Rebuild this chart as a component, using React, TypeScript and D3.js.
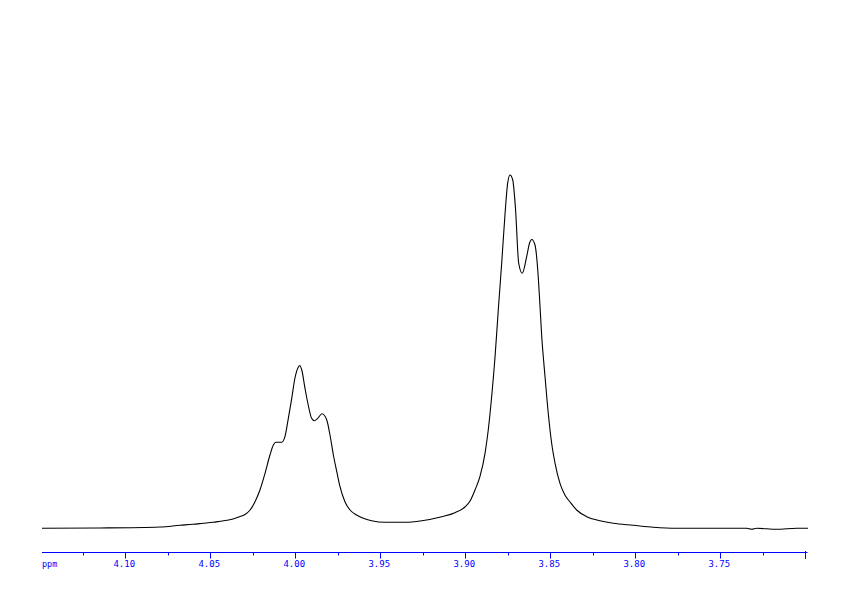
import React from "react";
import * as d3 from "d3";

const ppm: number[] = [
  4.149, 4.1149, 4.0796, 4.0678, 4.0602, 4.0543, 4.0484, 4.0443, 4.0402, 4.0366,
  4.0337, 4.0325, 4.0296, 4.0266, 4.0237, 4.0208, 4.0178, 4.0149, 4.0129, 4.0114,
  4.008, 4.0061, 4.0041, 4.0021, 4.0002, 3.9982, 3.9975, 3.9962, 3.9943, 3.9924,
  3.9904, 3.9888, 3.9868, 3.9843, 3.9815, 3.9796, 3.9776, 3.9756, 3.9737, 3.9708,
  3.9678, 3.9639, 3.96, 3.9551, 3.9472, 3.9355, 3.9256, 3.9139, 3.9061, 3.9002,
  3.8972, 3.8943, 3.8914, 3.8884, 3.8865, 3.8845, 3.8825, 3.8806, 3.8786, 3.8766,
  3.8751, 3.8737, 3.8721, 3.8705, 3.8686, 3.8665, 3.8639, 3.8622, 3.8609, 3.859,
  3.8571, 3.8561, 3.8551, 3.8531, 3.8512, 3.8492, 3.8472, 3.8443, 3.8414, 3.8384,
  3.8345, 3.8286, 3.8208, 3.8129, 3.8012, 3.7894, 3.7756, 3.7345, 3.7315, 3.7286,
  3.7168, 3.7051, 3.6984,
];

const intensity: number[] = [
  0, 0.3, 1.3, 3.0, 4.0, 5.0, 6.0, 7.0, 8.0, 9.3,
  11.0, 11.8, 13.8, 18.3, 26.6, 38.3, 55.0, 73.3, 83.3, 86.0,
  86.0, 91.6, 110.0, 130.0, 150.3, 161.3, 162.8, 158.3, 140.0, 123.3,
  110.0, 107.6, 110.0, 114.5, 108.3, 93.3, 73.3, 56.6, 41.6, 26.6,
  18.3, 13.3, 10.0, 7.6, 6.0, 6.0, 7.6, 11.6, 15.6, 21.3,
  27.3, 38.3, 51.6, 75.0, 98.3, 131.6, 171.6, 218.3, 265.0, 315.0,
  345.0, 353.3, 348.3, 320.3, 265.3, 255.0, 271.6, 285.3, 288.8, 283.3,
  251.6, 223.3, 193.6, 151.6, 115.0, 85.0, 65.0, 45.0, 33.3, 26.3,
  18.3, 11.6, 7.6, 5.0, 3.0, 1.0, 0, 0, -1.0, 0,
  -1.0, 0, 0,
];

const majorTicks: number[] = [4.1, 4.05, 4.0, 3.95, 3.9, 3.85, 3.8, 3.75];
const majorLabels: string[] = ["4.10", "4.05", "4.00", "3.95", "3.90", "3.85", "3.80", "3.75"];
const minorTicks: number[] = [4.125, 4.075, 4.025, 3.975, 3.925, 3.875, 3.825, 3.775, 3.725];
const endTick: number[] = [3.7];
const axisUnit = "ppm";

const W = 842;
const H = 595;
const AXIS_Y = 552.5;
const BLUE = "#0000ff";

export default function App() {
  const x = d3.scaleLinear().domain([4.15, 3.7]).range([40.3, 805.3]);
  const y = d3.scaleLinear().domain([0, 360]).range([528.3, 168.3]);

  const pts: [number, number][] = ppm.map((p, i) => [p, intensity[i]]);
  const line = d3
    .line<[number, number]>()
    .x((d) => x(d[0]))
    .y((d) => y(d[1]))
    .curve(d3.curveMonotoneX);

  const fontFamily = "'DejaVu Sans Mono', monospace";

  return (
    <svg
      width={W}
      height={H}
      style={{ position: "absolute", left: 0, top: 0, background: "#fff" }}
    >
      <rect x={0} y={0} width={W} height={H} fill="#fff" />
      <path d={line(pts) || ""} fill="none" stroke="#000" strokeWidth={1.1} />
      <g>
        <line x1={42} x2={807.5} y1={AXIS_Y} y2={AXIS_Y} stroke={BLUE} strokeWidth={1} />
        {majorTicks.map((t, i) => (
          <g key={"M" + i}>
            <line
              x1={Math.round(x(t)) + 0.5}
              x2={Math.round(x(t)) + 0.5}
              y1={AXIS_Y}
              y2={AXIS_Y + 6}
              stroke={BLUE}
              strokeWidth={1}
            />
            <text
              x={x(t) - 1}
              y={567}
              textAnchor="middle"
              fontFamily={fontFamily}
              fontSize={9}
              fill={BLUE}
            >
              {majorLabels[i]}
            </text>
          </g>
        ))}
        {minorTicks.map((t, i) => (
          <line
            key={"m" + i}
            x1={Math.round(x(t)) + 0.5}
            x2={Math.round(x(t)) + 0.5}
            y1={AXIS_Y}
            y2={AXIS_Y + 3}
            stroke={BLUE}
            strokeWidth={1}
          />
        ))}
        {endTick.map((t, i) => (
          <line
            key={"e" + i}
            x1={Math.round(x(t)) + 0.5}
            x2={Math.round(x(t)) + 0.5}
            y1={AXIS_Y - 1.5}
            y2={AXIS_Y + 6.5}
            stroke={BLUE}
            strokeWidth={1}
          />
        ))}
        <text x={42} y={567} fontFamily={fontFamily} fontSize={8.5} fill={BLUE}>
          {axisUnit}
        </text>
      </g>
    </svg>
  );
}
